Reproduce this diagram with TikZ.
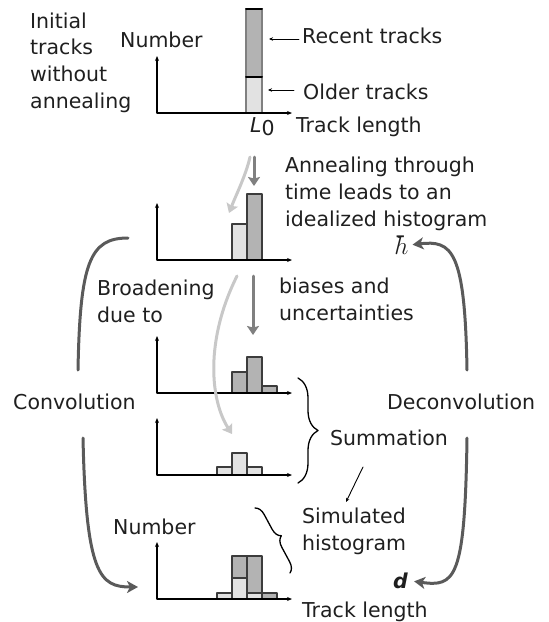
\documentclass[tikz,border=0pt]{standalone}
\usepackage{fontspec}
\setmainfont{DejaVu Sans}
\usetikzlibrary{arrows.meta,decorations.pathreplacing}

\definecolor{bigarrow}{HTML}{5A5A5A}
\definecolor{midarrow}{HTML}{808080}
\definecolor{palearrow}{HTML}{C8C8C8}
\definecolor{darkfill}{HTML}{B3B3B3}
\definecolor{lightfill}{HTML}{E2E2E2}
\definecolor{barline}{HTML}{3C3C3C}

\begin{document}
\begin{tikzpicture}[
  x=1pt, y=-1pt,
  line cap=round,
  line join=round,
  every node/.style={inner sep=0pt, text=black!88,
    font=\fontsize{20.5}{26.6}\selectfont},
  txt/.style={anchor=base west, align=left},
  histaxis/.style={line width=1.4pt,
    {Stealth[length=5pt,width=4pt]}-{Stealth[length=5pt,width=4pt]}},
  darkbar/.style={draw=barline, line width=1.5pt, fill=darkfill},
  lightbar/.style={draw=barline, line width=1.5pt, fill=lightfill},
  bigarc/.style={draw=bigarrow, line width=3pt},
  bigtip/.style={-{Stealth[length=11pt,width=12pt,inset=3pt]}},
  downarrow/.style={draw=midarrow, line width=3pt,
    -{Stealth[length=9pt,width=12pt,inset=1.5pt]}},
  palearc/.style={draw=palearrow, line width=3pt,
    -{Stealth[length=9pt,width=12pt,inset=1.5pt]}},
  leader/.style={line width=0.9pt, -{Stealth[length=4pt,width=3.5pt]}},
  curly/.style={line width=1.3pt, decorate}
]
  \useasboundingbox (0,0) rectangle (549,622);

  % Texte (bei mehreren Zeilen: Grundlinie der letzten Zeile)
  \node[txt] (initial) at (30,108) {Initial\\tracks\\without\\annealing};
  \node[txt] (numtop)  at (120,47) {Number};
  \node[txt] (recent)  at (302,43) {Recent tracks};
  \node[txt] (older)   at (303,99) {Older tracks};
  \node[txt] (lzero)   at (250,132) {\itshape L\raisebox{-3pt}{\upshape 0}};
  \node[txt] (lentop)  at (296,132) {Track length};
  \node[txt] (anneal)  at (285,226) {Annealing through\\time leads to an\\idealized histogram};
  \node[txt] (hbar)    at (394,254) {\fontsize{25}{25}\selectfont$\hbar$};
  \node[txt] (broad)   at (97,322) {Broadening\\due to};
  \node[txt] (biases)  at (279,320) {biases and\\uncertainties};
  \node[txt] (conv)    at (13,409) {Convolution};
  \node[txt] (deconv)  at (387,409) {Deconvolution};
  \node[txt] (summ)    at (330,445) {Summation};
  \node[txt] (simul)   at (302,550) {Simulated\\histogram};
  \node[txt] (numbot)  at (113,534) {Number};
  \node[txt] (lenbot)  at (302,617) {Track length};
  \node[txt] (dvec)    at (393,588) {\bfseries\itshape d};

  % Anfangsbalken
  \draw[lightbar, draw=gray] (246,113) rectangle (262,77);
  \draw[darkbar, draw=gray] (246,77) rectangle (262,9);
  \draw[line width=2pt] (246,9) -- (262,9);
  \draw[line width=2pt] (246,77) -- (262,77);

  % Idealisiertes Histogramm
  \draw[lightbar] (232,260) rectangle (247,224);
  \draw[darkbar]  (247,260) rectangle (262,194);

  % Verschoben
  \draw[darkbar] (232,393) rectangle (247,372);
  \draw[darkbar] (247,393) rectangle (262,357);
  \draw[darkbar] (262,393) rectangle (277,386);

  % Verbreitert
  \draw[lightbar] (217,475) rectangle (232,467);
  \draw[lightbar] (232,475) rectangle (247,453);
  \draw[lightbar] (247,475) rectangle (262,467);

  % Summe
  \draw[lightbar] (217,599) rectangle (232,593);
  \draw[lightbar] (232,599) rectangle (247,578);
  \draw[darkbar]  (232,578) rectangle (247,556);
  \draw[lightbar] (247,599) rectangle (262,593);
  \draw[darkbar]  (247,593) rectangle (262,556);
  \draw[darkbar]  (262,599) rectangle (277,593);

  % Achsen
  \foreach \oy in {113,260,393,475,599}
    \draw[histaxis] (157,\oy-57) |- (292,\oy);

  % Hinweislinien
  \coordinate (recentpt) at (269,39);
  \coordinate (olderpt)  at (268,90);
  \draw[leader] ([xshift=-3pt]recent.west |- recentpt) -- (recentpt);
  \draw[leader] ([xshift=-9pt]older.west |- olderpt) -- (olderpt);

  % Pfeile in der Mitte
  \coordinate (a1) at (254,157);
  \coordinate (a2) at (254,186);
  \coordinate (p1) at (250,157);
  \coordinate (p2) at (229,213);
  \coordinate (b1) at (253,276);
  \coordinate (b2) at (253,335);
  \coordinate (q1) at (237,276);
  \coordinate (q2) at (232,434);
  \draw[downarrow] (a1) -- (a2);
  \draw[palearc] (p1) .. controls (246,175) and (236,195) .. (p2);
  \draw[downarrow] (b1) -- (b2);
  \draw[palearc] (q1) .. controls (205,340) and (210,400) .. (q2);

  % Faltung links
  \coordinate (cv1) at (128,238);
  \coordinate (cv2) at (78,370);
  \coordinate (cv3) at (83,438);
  \coordinate (cv4) at (138,587);
  \draw[bigarc] (cv1) .. controls (90,238) and (80,262) .. (cv2);
  \draw[bigarc, bigtip] (cv3) .. controls (86,575) and (100,587) .. (cv4);

  % Entfaltung rechts
  \coordinate (dc1) at (467,370);
  \coordinate (dc2) at (467,438);
  \draw[bigarc, bigtip] (dc1) .. controls (465,250) and (452,240) .. ([xshift=4pt]hbar.east);
  \draw[bigarc, bigtip] (dc2) .. controls (465,580) and (455,587) .. ([xshift=6pt,yshift=-1pt]dvec.east);

  % Klammern
  \draw[curly, decoration={brace, amplitude=20pt}] (298,378) -- (298,483);
  \draw[curly, decoration={brace, amplitude=10pt}] (255,508) -- (290,573);
  \coordinate (s1) at (363,467);
  \coordinate (s2) at (346,502);
  \draw[leader] (s1) -- (s2);
\end{tikzpicture}
\end{document}
